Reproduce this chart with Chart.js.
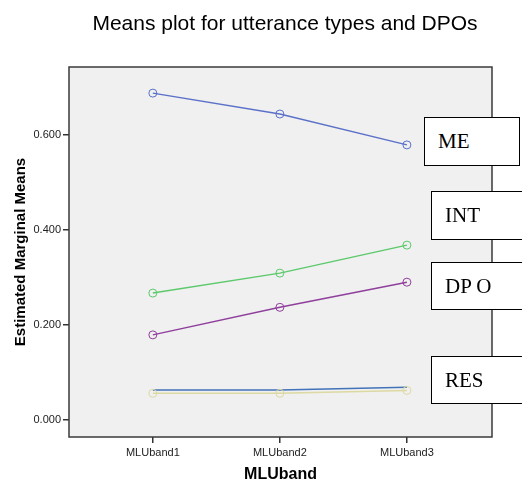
<!DOCTYPE html>
<html>
<head>
<meta charset="utf-8">
<script src="https://cdn.jsdelivr.net/npm/chart.js"></script>
<style>
  html, body { margin: 0; padding: 0; background: #fff; }
  #wrap { position: relative; width: 522px; height: 484px; }
  #title {
    position: absolute; left: 85px; width: 400px; top: 11px; text-align: center;
    font-family: Arial, 'Liberation Sans', sans-serif; font-size: 21px; color: #000;
  }
  .lbl {
    position: absolute; background: #fff; border: 1px solid #000;
    font-family: 'Liberation Serif', 'Times New Roman', serif; font-size: 21px;
    color: #000; box-sizing: border-box; padding-left: 13px; line-height: 46px;
  }
</style>
</head>
<body>
<div id="wrap">
  <canvas id="c" width="522" height="484"></canvas>
  <div id="title">Means plot for utterance types and DPOs</div>
  <div class="lbl" style="left:424px; top:117px; width:96px; height:49px;">ME</div>
  <div class="lbl" style="left:431px; top:191px; width:100px; height:49px;">INT</div>
  <div class="lbl" style="left:431px; top:262px; width:100px; height:48px;">DP O</div>
  <div class="lbl" style="left:431px; top:356px; width:100px; height:48px;">RES</div>
</div>
<script>
const categories = ['MLUband1', 'MLUband2', 'MLUband3'];
const yTicks = [0, 0.2, 0.4, 0.6];
const meValues = [0.688, 0.644, 0.579];
const intValues = [0.267, 0.309, 0.368];
const dpoValues = [0.179, 0.237, 0.290];
const resValues = [0.063, 0.063, 0.069];
const yellowValues = [0.056, 0.056, 0.062];

const toPoints = (vals) => vals.map((v, i) => ({ x: i, y: v }));

const series = (values, color, marker) => ({
  data: toPoints(values),
  borderColor: color,
  backgroundColor: 'rgba(0,0,0,0)',
  borderWidth: 1.5,
  pointRadius: marker ? 4 : 0,
  pointBorderWidth: 1,
  pointBorderColor: color,
  pointBackgroundColor: 'rgba(0,0,0,0)',
  tension: 0,
});

const plotBox = {
  id: 'plotBox',
  beforeDatasetsDraw(chart) {
    const { ctx, chartArea: a } = chart;
    ctx.save();
    ctx.fillStyle = '#f0f0f0';
    ctx.fillRect(a.left, a.top, a.right - a.left, a.bottom - a.top);
    ctx.restore();
  },
  afterDatasetsDraw(chart) {
    const { ctx, chartArea: a } = chart;
    ctx.save();
    ctx.strokeStyle = '#3a3a3a';
    ctx.lineWidth = 1.5;
    ctx.strokeRect(a.left, a.top, a.right - a.left, a.bottom - a.top);
    ctx.restore();
  },
};

const font = 'Arial, "Liberation Sans", sans-serif';

new Chart(document.getElementById('c'), {
  type: 'line',
  data: {
    datasets: [
      series(yellowValues, '#ddd9a2', true),
      series(resValues, '#4272b8', false),
      series(dpoValues, '#8f3f9c', true),
      series(intValues, '#5cc96b', true),
      series(meValues, '#5b70c8', true),
    ],
  },
  options: {
    responsive: false,
    animation: false,
    layout: { padding: { left: 12, right: 30, top: 67, bottom: 0 } },
    plugins: {
      legend: { display: false },
      tooltip: { enabled: false },
      title: { display: false },
    },
    scales: {
      x: {
        type: 'linear',
        min: -0.66,
        max: 2.67,
        afterBuildTicks(scale) { scale.ticks = categories.map((c, i) => ({ value: i })); },
        afterFit(scale) { scale.height = 47; },
        grid: { drawOnChartArea: false, tickLength: 6, color: '#333', lineWidth: 1.5 },
        border: { display: false },
        ticks: {
          color: '#222',
          font: { family: font, size: 11 },
          padding: 3,
          maxRotation: 0,
          callback: (v) => categories[v],
        },
        title: {
          display: true,
          text: 'MLUband',
          color: '#000',
          font: { family: font, size: 16, weight: 'bold' },
          padding: { top: 9, bottom: 0 },
        },
      },
      y: {
        min: -0.036,
        max: 0.743,
        afterBuildTicks(scale) { scale.ticks = yTicks.map((v) => ({ value: v })); },
        afterFit(scale) { scale.width = 57; },
        grid: { drawOnChartArea: false, tickLength: 6, color: '#333', lineWidth: 1.5 },
        border: { display: false },
        ticks: {
          color: '#222',
          font: { family: font, size: 11 },
          padding: 2,
          callback: (v) => v.toFixed(3),
        },
        title: {
          display: true,
          text: 'Estimated Marginal Means',
          color: '#000',
          font: { family: font, size: 15, weight: 'bold' },
          padding: { top: 0, bottom: 4 },
        },
      },
    },
  },
  plugins: [plotBox],
});
</script>
</body>
</html>
